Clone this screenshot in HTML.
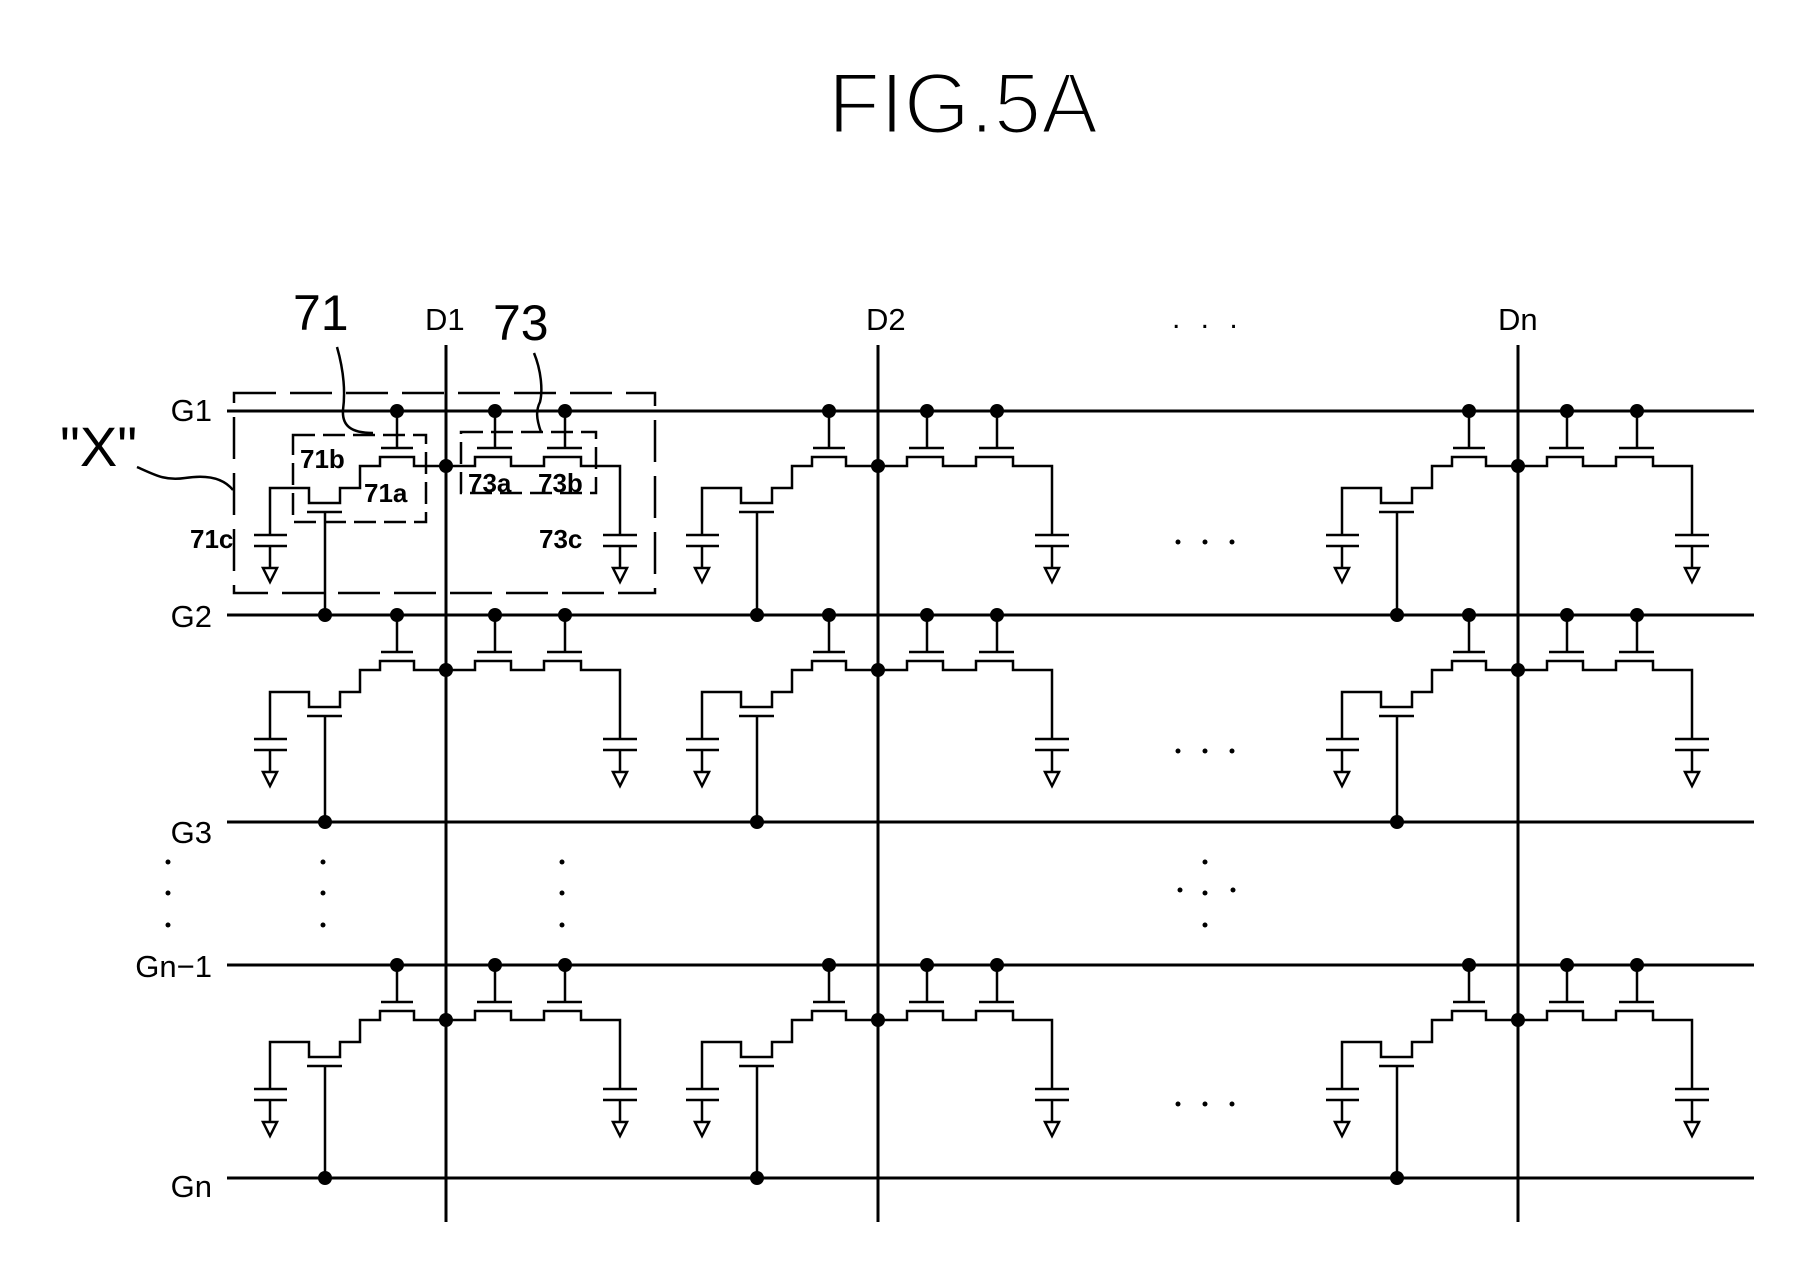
<!DOCTYPE html>
<html><head><meta charset="utf-8"><style>
html,body{margin:0;padding:0;background:#fff;overflow:hidden;width:1814px;height:1288px}
svg{display:block}
text{font-family:"Liberation Sans",sans-serif;fill:#000}
</style></head><body>
<svg width="1814" height="1288" viewBox="0 0 1814 1288" xmlns="http://www.w3.org/2000/svg">
<rect width="1814" height="1288" fill="#fff"/>
<text x="828" y="133" font-size="86" textLength="270" lengthAdjust="spacingAndGlyphs" stroke="#fff" stroke-width="3">FIG.5A</text>

<g font-size="31">
<text x="425" y="330">D1</text>
<text x="866" y="330">D2</text>
<text x="1498" y="330">Dn</text>
<text x="1172" y="328" font-size="30" letter-spacing="6">. . .</text>
<g text-anchor="end">
<text x="212" y="421">G1</text>
<text x="212" y="627">G2</text>
<text x="212" y="843">G3</text>
<text x="212" y="977">Gn−1</text>
<text x="212" y="1197">Gn</text>
</g>
</g>
<text x="293" y="330" font-size="50">71</text>
<text x="493" y="340" font-size="50">73</text>
<text x="60" y="466" font-size="56">"X"</text>
<g font-size="26" font-weight="bold">
<text x="300" y="468">71b</text>
<text x="364" y="502">71a</text>
<text x="468" y="492">73a</text>
<text x="538" y="492">73b</text>
<text x="190" y="548">71c</text>
<text x="539" y="548">73c</text>
</g>

<g stroke="#000" fill="none" stroke-width="2.5">
<path d="M227 411H1754M227 615H1754M227 822H1754M227 965H1754M227 1178H1754" stroke-width="3"/>
<path d="M446 345V1222M878 345V1222M1518 345V1222" stroke-width="3"/>
<path d="M337 347C345 375 345 395 343 410C342 425 350 433 373 433"/>
<path d="M534 353C541 370 543 390 540 402C536 410 536 418 541 432"/>
<path d="M137 467C155 475 165 481 185 478C210 474 225 480 233 490"/>
<path d="M234 393H655V593H234Z" stroke-dasharray="42 14"/>
<path d="M293 435H426V522H293Z" stroke-dasharray="22 8"/>
<path d="M461 432H596V493H461Z" stroke-dasharray="22 8"/>
<path d="M325 512V615M757 512V615M1397 512V615"/>
<path d="M325 716V822M757 716V822M1397 716V822"/>
<path d="M325 1066V1178M757 1066V1178M1397 1066V1178"/>
</g>

<g fill="#000">
<circle cx="168" cy="862" r="2.5"/><circle cx="168" cy="893" r="2.5"/><circle cx="168" cy="925" r="2.5"/>
<circle cx="323" cy="862" r="2.5"/><circle cx="323" cy="893" r="2.5"/><circle cx="323" cy="925" r="2.5"/>
<circle cx="562" cy="862" r="2.5"/><circle cx="562" cy="893" r="2.5"/><circle cx="562" cy="925" r="2.5"/>
<circle cx="1205" cy="862" r="2.5"/><circle cx="1205" cy="893" r="2.5"/><circle cx="1205" cy="925" r="2.5"/>
<circle cx="1180" cy="890" r="2.5"/><circle cx="1233" cy="890" r="2.5"/>
<circle cx="1178" cy="542" r="2.5"/><circle cx="1205" cy="542" r="2.5"/><circle cx="1232" cy="542" r="2.5"/>
<circle cx="1178" cy="751" r="2.5"/><circle cx="1205" cy="751" r="2.5"/><circle cx="1232" cy="751" r="2.5"/>
<circle cx="1178" cy="1104" r="2.5"/><circle cx="1205" cy="1104" r="2.5"/><circle cx="1232" cy="1104" r="2.5"/>
</g>

<defs>
<g id="cell">
<g stroke="#000" fill="none" stroke-width="2.5">
<path d="M0 55H-32V46H-66V55H-86V77H-106V92H-137V77H-176V124"/>
<path d="M-192 124H-159M-192 135H-159M-176 135V157"/>
<path d="M-183 157H-169L-176 171Z"/>
<path d="M-49 0V37M-65 37H-33"/>
<path d="M-139 101H-104"/>
<path d="M0 55H29V46H65V55H98V46H135V55H174V124"/>
<path d="M157 124H191M157 135H191M174 135V157"/>
<path d="M167 157H181L174 171Z"/>
<path d="M49 0V37M31 37H66M119 0V37M101 37H136"/>
</g>
<g fill="#000">
<circle cx="-49" cy="0" r="7"/><circle cx="49" cy="0" r="7"/><circle cx="119" cy="0" r="7"/>
<circle cx="0" cy="55" r="7"/>
</g>
</g>
</defs>

<use href="#cell" x="446" y="411"/>
<use href="#cell" x="878" y="411"/>
<use href="#cell" x="1518" y="411"/>
<use href="#cell" x="446" y="615"/>
<use href="#cell" x="878" y="615"/>
<use href="#cell" x="1518" y="615"/>
<use href="#cell" x="446" y="965"/>
<use href="#cell" x="878" y="965"/>
<use href="#cell" x="1518" y="965"/>

<g fill="#000">
<circle cx="325" cy="615" r="7"/><circle cx="757" cy="615" r="7"/><circle cx="1397" cy="615" r="7"/>
<circle cx="325" cy="822" r="7"/><circle cx="757" cy="822" r="7"/><circle cx="1397" cy="822" r="7"/>
<circle cx="325" cy="1178" r="7"/><circle cx="757" cy="1178" r="7"/><circle cx="1397" cy="1178" r="7"/>
</g>
</svg>
</body></html>
